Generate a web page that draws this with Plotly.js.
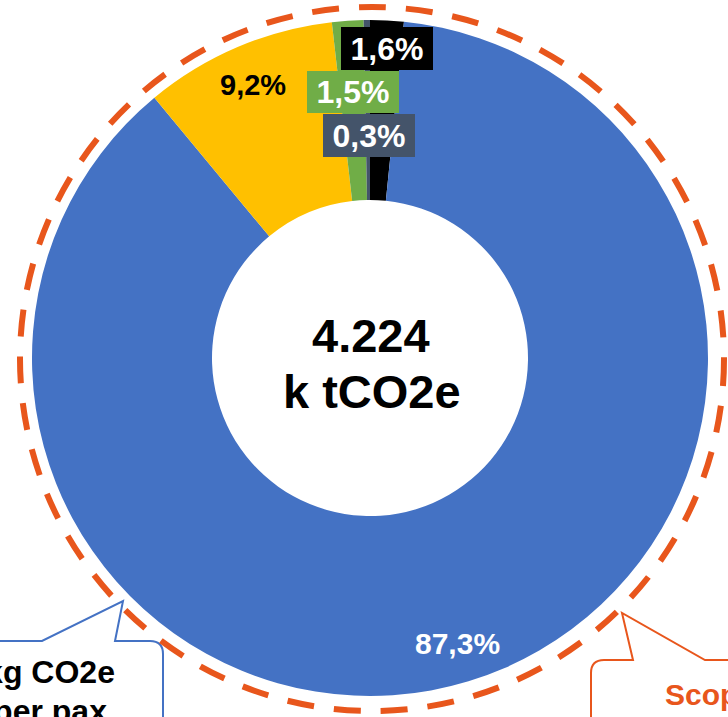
<!DOCTYPE html>
<html>
<head>
<meta charset="utf-8">
<script src="https://cdn.plot.ly/plotly-3.0.1.min.js"></script>
<style>html,body{margin:0;padding:0;background:#fff;}#chart{width:728px;height:717px;}</style>
</head>
<body>
<div id="chart"></div>
<script>
// ---- data ----
const categories = ['Segment E', 'Segment A', 'Segment B', 'Segment C', 'Segment D'];
const shares = [1.6, 87.3, 9.2, 1.5, 0.3];
const sliceColors = ['#000000', '#4472C4', '#FFC000', '#70AD47', '#44546A'];
const totalValue = '4.224';
const totalUnit = 'k tCO2e';
const leftCallout = ['kg CO2e', 'per pax'];
const rightCallout = 'Scope 3';

// ---- helpers (pixel -> paper) ----
const W = 728, H = 717;
const px = x => x / W;
const py = y => 1 - y / H;
function path(cmds) {
  return cmds.map(c => {
    if (c[0] === 'Q') return 'Q' + px(c[1]) + ',' + py(c[2]) + ' ' + px(c[3]) + ',' + py(c[4]);
    return c[0] + px(c[1]) + ',' + py(c[2]);
  }).join(' ');
}
const fmt = v => v.toFixed(1).replace('.', ',') + '%';
const FONT = 'Liberation Sans, Arial, sans-serif';
const ORANGE = '#E8561C';

const cx = 370, cy = 358, R = 338, r = 158;

const trace = {
  type: 'pie',
  labels: categories,
  values: shares,
  sort: false,
  direction: 'clockwise',
  rotation: 0,
  hole: r / R,
  textinfo: 'none',
  hoverinfo: 'label+percent',
  marker: { colors: sliceColors, line: { width: 0 } },
  domain: { x: [px(cx - R), px(cx + R)], y: [py(cy + R), py(cy - R)] },
  showlegend: false
};

// callout texts, drawn in a hidden pixel-space axis so they are clipped at the edge
const calloutText = {
  type: 'scatter', mode: 'text', xaxis: 'x', yaxis: 'y',
  x: [50, 50, 665],
  y: [675, 714, 697],
  text: ['<b>' + leftCallout[0] + '</b>', '<b>' + leftCallout[1] + '</b>', '<b>' + rightCallout + '</b>'],
  textposition: ['middle center', 'middle center', 'middle right'],
  textfont: { family: FONT, size: [32, 32, 30], color: ['#000000', '#000000', ORANGE] },
  cliponaxis: true, hoverinfo: 'skip', showlegend: false
};

// label placement (pixel centres)
const labelPos = [
  { x: 387, y: 48.5, color: '#ffffff', bg: '#000000', w: 92, h: 43, size: 32 },
  { x: 457, y: 643, color: '#ffffff', bg: null, size: 30 },
  { x: 253, y: 85, color: '#000000', bg: null, size: 29 },
  { x: 353, y: 92, color: '#ffffff', bg: '#70AD47', w: 92, h: 42, size: 32 },
  { x: 369, y: 135.5, color: '#ffffff', bg: '#44546A', w: 92, h: 43, size: 32 }
];

const annotations = shares.map((v, i) => {
  const p = labelPos[i];
  const a = {
    xref: 'paper', yref: 'paper', x: px(p.x), y: py(p.y),
    xanchor: 'center', yanchor: 'middle', showarrow: false,
    text: '<b>' + fmt(v) + '</b>',
    font: { family: FONT, size: p.size, color: p.color },
    borderpad: 0, borderwidth: 0
  };
  if (p.bg) { a.bgcolor = p.bg; a.width = p.w; a.height = p.h; }
  return a;
});

annotations.push(
  { xref: 'paper', yref: 'paper', x: px(371), y: py(335), xanchor: 'center', yanchor: 'middle', showarrow: false,
    text: '<b>' + totalValue + '</b>', font: { family: FONT, size: 47, color: '#000000' } },
  { xref: 'paper', yref: 'paper', x: px(372), y: py(391), xanchor: 'center', yanchor: 'middle', showarrow: false,
    text: '<b>' + totalUnit + '</b>', font: { family: FONT, size: 47, color: '#000000' } }
);

const shapes = [
  { type: 'path', xref: 'paper', yref: 'paper', layer: 'above',
    path: path([['M', -5, 641], ['L', 42, 641], ['L', 123, 601], ['L', 115, 641], ['L', 150, 641], ['Q', 163, 641, 163, 654], ['L', 163, 730]]),
    line: { color: '#4472C4', width: 2 } },
  { type: 'path', xref: 'paper', yref: 'paper', layer: 'above',
    path: path([['M', 740, 660], ['L', 705, 660], ['L', 622, 613], ['L', 633, 660], ['L', 604, 660], ['Q', 591, 660, 591, 673], ['L', 591, 730]]),
    line: { color: ORANGE, width: 2 } },
  { type: 'circle', xref: 'paper', yref: 'paper', layer: 'above',
    x0: px(372 - 352), x1: px(372 + 352), y0: py(359 + 352), y1: py(359 - 352),
    line: { color: ORANGE, width: 6, dash: '27px,20px' } }
];

const layout = {
  width: W, height: H,
  margin: { l: 0, r: 0, t: 0, b: 0, pad: 0, autoexpand: false },
  paper_bgcolor: '#ffffff', plot_bgcolor: 'rgba(0,0,0,0)',
  xaxis: { range: [0, W], visible: false, fixedrange: true },
  yaxis: { range: [H, 0], visible: false, fixedrange: true },
  annotations: annotations,
  shapes: shapes,
  showlegend: false
};

Plotly.newPlot('chart', [trace, calloutText], layout, { displayModeBar: false, staticPlot: true });
</script>
</body>
</html>
